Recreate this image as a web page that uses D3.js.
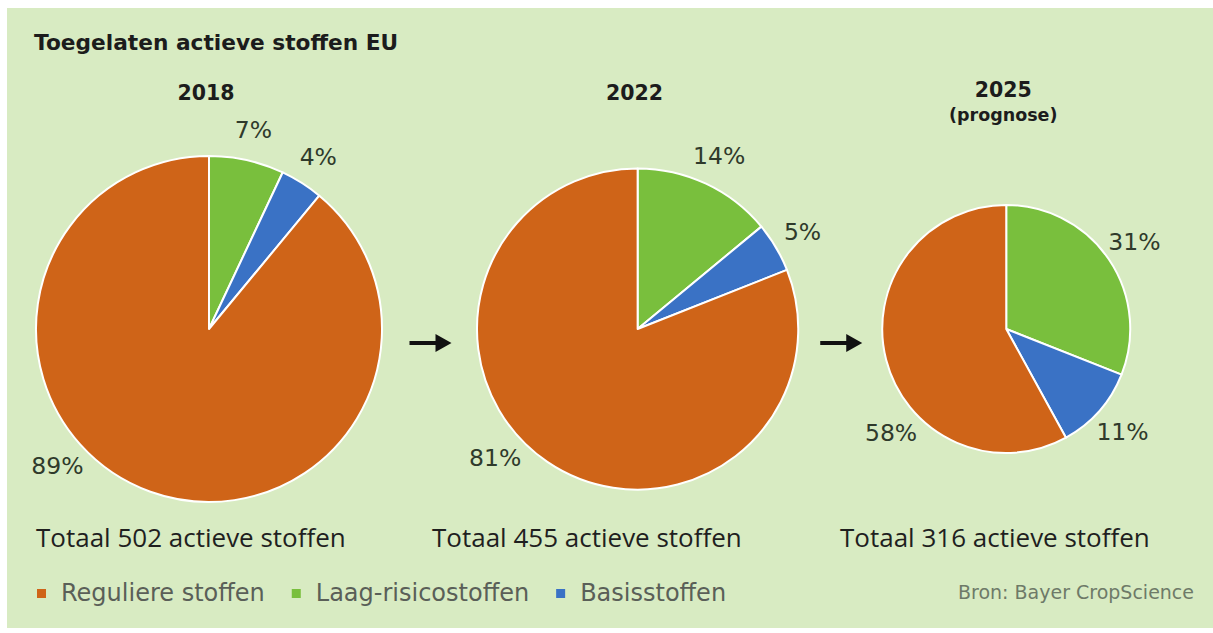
<!DOCTYPE html>
<html>
<head>
<meta charset="utf-8">
<script src="https://cdn.jsdelivr.net/npm/d3@7"></script>
<style>
  body { margin: 0; background: #fff; }
</style>
</head>
<body>
<div id="chart"></div>
<script>
const years = ["2018", "2022", "2025"];
const subtitles = ["", "", "(prognose)"];
const totals = [502, 455, 316];
const categories = ["Reguliere stoffen", "Laag-risicostoffen", "Basisstoffen"];
const regulier = [89, 81, 58];
const laagRisico = [7, 14, 31];
const basis = [4, 5, 11];

const width = 1213,
      height = 633,
      cy = 329,
      gaps = [95, 84]; // space between neighbouring pies

const colors = { "Reguliere stoffen": "#cf6418", "Laag-risicostoffen": "#79bf3d", "Basisstoffen": "#3a72c5" };

let svg = d3.select("#chart")
    .append("svg")
    .attr("width", width)
    .attr("height", height);

svg.append("rect") // green panel
    .attr("x", 7).attr("y", 8)
    .attr("width", width - 7).attr("height", 620)
    .attr("fill", "#d8ebc2");

svg.append("text")
    .attr("x", 34).attr("y", 50)
    .style("font-family", "DejaVu Sans")
    .style("font-weight", "bold")
    .style("font-size", "21.7px")
    .attr("fill", "#1c1c1c")
    .text("Toegelaten actieve stoffen EU");

// radius grows with the total
let r = d3.scaleLinear().domain([316, 502]).range([124, 173]);

// pies placed left to right
let cx = [];
let edge = 36;
totals.forEach((t, i) => { cx.push(edge + r(t)); edge += 2 * r(t) + (gaps[i] || 0); });

let col = d3.scaleLinear().domain([0, 1, 2]).range([36, 432, 840]);

let pie = d3.pie().sort(null).value(d => d.value);

years.forEach((yr, i) => {
    let rad = r(totals[i]);
    let slices = [
        { name: "Laag-risicostoffen", value: laagRisico[i] },
        { name: "Basisstoffen", value: basis[i] },
        { name: "Reguliere stoffen", value: regulier[i] }
    ];
    let g = svg.append("g").attr("transform", `translate(${cx[i]},${cy})`);
    let arc = d3.arc().innerRadius(0).outerRadius(rad);
    let labelArc = d3.arc().innerRadius(rad + 31).outerRadius(rad + 31);

    g.selectAll("path")
        .data(pie(slices))
        .join("path")
        .attr("d", arc)
        .attr("fill", d => colors[d.data.name])
        .attr("stroke", "#fff")
        .attr("stroke-width", 2)
        .attr("stroke-linejoin", "round");

    g.selectAll(".pct")
        .data(pie(slices))
        .join("text")
        .attr("class", "pct")
        .attr("transform", d => {
            if (d.data.name === "Reguliere stoffen") {
                let a = 228 * Math.PI / 180; // bottom-left placement
                return `translate(${Math.sin(a) * (rad + 31)},${-Math.cos(a) * (rad + 31)})`;
            }
            return `translate(${labelArc.centroid(d)})`;
        })
        .attr("text-anchor", "middle")
        .attr("dy", "0.36em")
        .style("font-family", "DejaVu Sans")
        .style("font-size", "23.5px")
        .attr("fill", "#2f3a2b")
        .text(d => d.data.value + "%");

    svg.append("text")
        .attr("x", cx[i] - 3).attr("y", subtitles[i] ? 97 : 100)
        .attr("text-anchor", "middle")
        .style("font-family", "DejaVu Sans")
        .style("font-weight", "bold")
        .style("font-size", "20.5px")
        .attr("fill", "#1c1c1c")
        .text(yr);

    if (subtitles[i]) {
        svg.append("text")
            .attr("x", cx[i] - 3).attr("y", 121)
            .attr("text-anchor", "middle")
            .style("font-family", "DejaVu Sans")
            .style("font-weight", "bold")
            .style("font-size", "17.5px")
            .attr("fill", "#1c1c1c")
            .text(subtitles[i]);
    }

    svg.append("text")
        .attr("x", col(i)).attr("y", 547)
        .style("font-family", "Open Sans")
        .style("font-size", "26px")
        .attr("fill", "#1f1f1f")
        .text(`Totaal ${totals[i]} actieve stoffen`);

    // arrow to the next pie
    if (i < years.length - 1) {
        let ax = (cx[i] + rad + cx[i + 1] - r(totals[i + 1])) / 2 + 1;
        svg.append("path")
            .attr("d", `M${ax - 21},${cy + 12} H${ax + 5} V${cy + 5} L${ax + 21},${cy + 14} L${ax + 5},${cy + 23} V${cy + 16} H${ax - 21} Z`)
            .attr("fill", "#111");
    }
});

// legend
let lx = 37;
categories.forEach(c => {
    svg.append("rect")
        .attr("x", lx).attr("y", 589)
        .attr("width", 9).attr("height", 9)
        .attr("fill", colors[c]);
    let t = svg.append("text")
        .attr("x", lx + 24).attr("y", 601)
        .style("font-family", "DejaVu Sans")
        .style("font-size", "24px")
        .attr("fill", "#5a5f58")
        .text(c);
    lx += 24 + t.node().getComputedTextLength() + 27;
});

svg.append("text")
    .attr("x", 1194).attr("y", 599)
    .attr("text-anchor", "end")
    .style("font-family", "DejaVu Sans")
    .style("font-size", "19px")
    .attr("fill", "#6e7a68")
    .text("Bron: Bayer CropScience");
</script>
</body>
</html>
